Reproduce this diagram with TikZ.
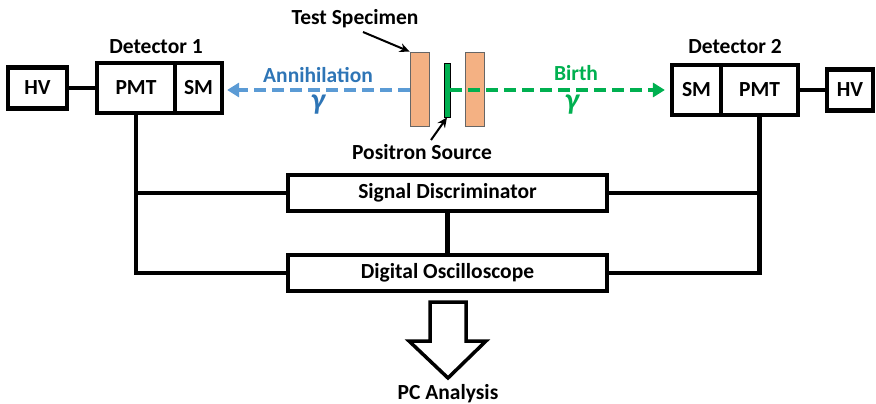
\documentclass[tikz,border=0pt]{standalone}
\usepackage{fontspec}
\setmainfont{Carlito}
\usetikzlibrary{arrows.meta}
\definecolor{lblue}{HTML}{5B9BD5}
\definecolor{dblue}{HTML}{2E75B6}
\definecolor{lgreen}{HTML}{00B050}
\definecolor{salmon}{HTML}{F4B183}
\begin{document}
\begin{tikzpicture}[x=1pt,y=-1pt,
  box/.style={draw=black,line width=4.2pt,fill=white,inner sep=0pt,font=\fontsize{21.5}{23}\selectfont\bfseries},
  wire/.style={line width=4.2pt},
  lbl/.style={font=\fontsize{21.5}{23}\selectfont\bfseries,inner sep=0pt},
  gam/.style={font=\fontsize{30}{32}\selectfont\bfseries\itshape,inner sep=0pt},
  pointer/.style={line width=2pt,-{Stealth[length=10pt,width=9pt]}},
  slab/.style={draw=black!60,line width=0.8pt,fill=salmon,minimum width=19pt,minimum height=74pt,inner sep=0pt}
]
\useasboundingbox (0,0) rectangle (876,404);
\node[box,minimum width=59pt,minimum height=41pt] (hv1) at (37.5,88) {HV};
\node[box,minimum width=78pt,minimum height=50pt] (pmt1) at (136,88) {PMT};
\node[box,minimum width=47pt,minimum height=50pt] (sm1) at (198.5,88) {SM};
\node[box,minimum width=49pt,minimum height=50pt] (sm2) at (696.5,90) {SM};
\node[box,minimum width=77pt,minimum height=50pt] (pmt2) at (759.5,90) {PMT};
\node[box,minimum width=46pt,minimum height=41pt] (hv2) at (850,90) {HV};
\node[box,minimum width=319pt,minimum height=36pt] (sd) at (447.5,193) {Signal Discriminator};
\node[box,minimum width=319pt,minimum height=36pt] (do) at (447.5,273) {Digital Oscilloscope};
\draw[wire] (hv1.east) -- (pmt1.west);
\draw[wire] (pmt2.east) -- (hv2.west);
\draw[wire] (pmt1.south) |- (sd.west);
\draw[wire] (pmt1.south) |- (do.west);
\draw[wire] (pmt2.south) |- (sd.east);
\draw[wire] (pmt2.south) |- (do.east);
\draw[wire] (sd.south) -- (do.north);
\node[lbl] (d1) at (156,47) {Detector 1};
\node[lbl] (d2) at (735,47) {Detector 2};
% specimen and source
\node[slab] (spL) at (419.5,89) {};
\node[slab] (spR) at (474.5,89) {};
\node[draw=black,line width=0.8pt,fill=lgreen,minimum width=6pt,minimum height=54pt,inner sep=0pt] (src) at (447,90) {};
\draw[lblue,line width=4pt,dash pattern=on 12pt off 6pt,-{Triangle[length=12pt,width=14pt]},shorten >=3pt] (spL.west |- 0,90) -- (sm1.east |- 0,90);
\draw[lgreen,line width=4pt,dash pattern=on 12pt off 6pt,-{Triangle[length=12pt,width=14pt]},shorten >=5pt] (src.east |- 0,90) -- (sm2.west |- 0,90);
\node[lbl,text=dblue] (ann) at (318,75) {Annihilation};
\node[gam,text=dblue] (g1) at (318,105) {γ};
\node[lbl,text=lgreen] (birth) at (576,73) {Birth};
\node[gam,text=lgreen] (g2) at (572,105) {γ};
\node[lbl] (ts) at (355,19) {Test Specimen};
\node[lbl] (ps) at (422,152) {Positron Source};
\coordinate (tsa) at (363,32);
\coordinate (psa) at (431,140);
\draw[pointer] (tsa) -- (spL.north west);
\draw[pointer] (psa) -- (src.south);
% output arrow
\draw[line width=3.5pt,fill=white,line join=miter] (430,302) -- (466,302) -- (466,341) -- (486,341) -- (448,378) -- (409,341) -- (430,341) -- cycle;
\node[lbl] (pc) at (448,394) {PC Analysis};
\end{tikzpicture}
\end{document}
